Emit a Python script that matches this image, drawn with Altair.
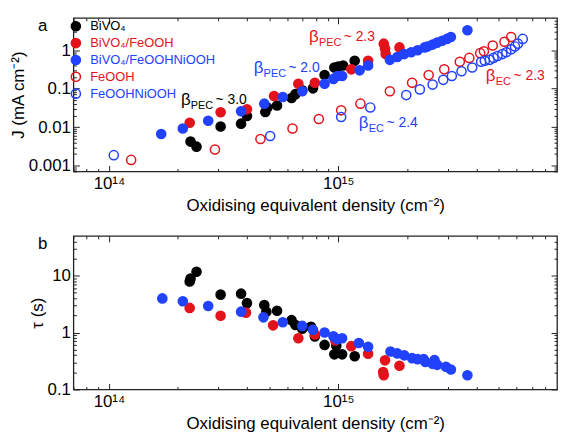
import altair as alt
import pandas as pd

FONT = "Liberation Sans"
RED = "#e3121b"
BLUE = "#2142ff"
BLACK = "#000000"

SERIES = ["BiVO₄", "BiVO₄/FeOOH", "BiVO₄/FeOOHNiOOH", "FeOOH", "FeOOHNiOOH"]
PANEL_LABELS = ["a", "b"]

# ---------------- panel a : current density J (mA cm^-2) ----------------
a_bivo4_x = [2.27e14, 2.41e14, 3.07e14, 3.77e14, 4.00e14, 4.81e14, 4.91e14, 5.41e14, 6.26e14,
             6.51e14, 6.97e14, 7.76e14, 8.72e14, 9.62e14, 1.00e15, 1.05e15, 1.18e15]
a_bivo4_j = [0.0042, 0.0031, 0.0104, 0.0123, 0.0194, 0.0248, 0.0325, 0.0364, 0.0574,
             0.0722, 0.0908, 0.102, 0.226, 0.357, 0.379, 0.401, 0.533]

a_feooh_x = [2.25e14, 3.07e14, 4.00e14, 5.25e14, 6.70e14, 7.91e14, 1.14e15, 1.35e15, 1.58e15,
             1.60e15, 1.61e15, 1.85e15]
a_feooh_j = [0.013, 0.0244, 0.029, 0.0644, 0.135, 0.143, 0.319, 0.533, 1.49, 1.12, 0.796, 1.19]

a_ni_x = [1.69e14, 2.10e14, 2.71e14, 3.77e14, 4.76e14, 5.73e14, 6.97e14, 8.72e14, 9.53e14, 9.91e14,
          1.04e15, 1.24e15, 1.35e15, 1.68e15, 1.81e15, 1.94e15, 2.08e15, 2.22e15, 2.38e15, 2.45e15,
          2.58e15, 2.70e15, 2.84e15, 2.98e15, 3.10e15, 3.66e15]
a_ni_j = [0.0066, 0.0092, 0.0146, 0.0258, 0.0408, 0.0608, 0.0857, 0.135, 0.18, 0.214,
          0.214, 0.301, 0.401, 0.565, 0.67, 0.796, 0.891, 1.0, 1.19, 1.26,
          1.41, 1.58, 1.77, 1.98, 2.22, 3.32]

a_ofe_x = [1.25e14, 2.90e14, 4.58e14, 6.32e14, 8.23e14, 1.03e15, 1.25e15, 1.68e15, 2.10e15,
           2.48e15, 2.90e15, 3.39e15, 3.73e15, 4.16e15, 4.32e15, 4.72e15, 5.31e15, 5.68e15]
a_ofe_j = [0.0014, 0.0026, 0.0049, 0.0092, 0.0163, 0.0273, 0.0408, 0.0857, 0.143,
           0.226, 0.319, 0.504, 0.633, 0.843, 0.944, 1.33, 1.67, 2.22]

a_oni_x = [1.05e14, 5.05e14, 1.03e15, 1.38e15, 1.98e15, 2.27e15, 2.58e15, 2.87e15, 3.13e15, 3.45e15,
           3.84e15, 4.20e15, 4.36e15, 4.58e15, 4.76e15, 4.95e15, 5.20e15, 5.41e15, 5.68e15, 5.90e15,
           6.08e15, 6.38e15]
a_oni_j = [0.00186, 0.00585, 0.0183, 0.0325, 0.0682, 0.096, 0.128, 0.17, 0.214, 0.284,
           0.357, 0.504, 0.533, 0.565, 0.633, 0.71, 0.796, 0.891, 1.06, 1.26,
           1.49, 1.98]

# annotations (slopes)
ann_x = [2.06e14, 4.28e14, 7.46e14, 4.40e15, 1.23e15]
ann_y = [0.0513, 0.338, 2.22, 0.214, 0.013]
ann_sub = ["PEC", "PEC", "PEC", "EC", "EC"]
ann_val = ["~ 3.0", "~ 2.0", "~ 2.3", "~ 2.3", "~ 2.4"]
ann_series = ["BiVO₄", "BiVO₄/FeOOHNiOOH", "BiVO₄/FeOOH", "FeOOH", "FeOOHNiOOH"]

# ---------------- panel b : time constant tau (s) ----------------
b_bivo4_x = [2.25e14, 2.27e14, 2.41e14, 3.07e14, 3.77e14, 4.00e14, 4.76e14, 4.86e14, 5.41e14, 6.26e14,
             6.51e14, 6.97e14, 7.61e14, 7.91e14, 8.72e14, 9.81e14, 9.62e14, 1.04e15, 1.18e15]
b_bivo4_t = [7.9, 8.9, 11.7, 4.64, 4.82, 3.29, 3.04, 2.33, 2.42, 1.65,
             1.36, 1.17, 1.26, 0.857, 0.607, 0.585, 0.414, 0.414, 0.383]

b_feooh_x = [2.25e14, 3.07e14, 3.96e14, 5.20e14, 6.70e14, 7.91e14, 9.71e14, 1.14e15, 1.35e15,
             1.60e15, 1.57e15, 1.58e15, 1.85e15]
b_feooh_t = [2.71, 1.97, 2.24, 1.34, 0.794, 0.926, 0.727, 0.577, 0.425, 0.325, 0.202, 0.178, 0.261]

b_ni_x = [1.71e14, 2.10e14, 2.71e14, 3.77e14, 4.72e14, 5.73e14, 6.97e14, 7.76e14, 8.72e14, 9.53e14,
          9.91e14, 1.04e15, 1.23e15, 1.35e15, 1.69e15, 1.81e15, 1.94e15, 2.10e15, 2.22e15, 2.36e15,
          2.40e15, 2.58e15, 2.63e15, 2.70e15, 2.95e15, 3.10e15, 3.66e15]
b_ni_t = [3.98, 3.55, 2.93, 2.33, 1.85, 1.52, 1.31, 1.12, 1.0, 0.857,
          0.764, 0.794, 0.656, 0.562, 0.464, 0.43, 0.398, 0.355, 0.341, 0.341,
          0.304, 0.282, 0.329, 0.271, 0.251, 0.224, 0.178]

# ---------------- tables ----------------
def frame(xs, ys, name):
    return pd.DataFrame({"x": xs, "v": ys, "series": name})

df_a = pd.concat([
    frame(a_ofe_x, a_ofe_j, "FeOOH"),
    frame(a_oni_x, a_oni_j, "FeOOHNiOOH"),
    frame(a_bivo4_x, a_bivo4_j, "BiVO₄"),
    frame(a_feooh_x, a_feooh_j, "BiVO₄/FeOOH"),
    frame(a_ni_x, a_ni_j, "BiVO₄/FeOOHNiOOH"),
], ignore_index=True)

df_b = pd.concat([
    frame(b_bivo4_x, b_bivo4_t, "BiVO₄"),
    frame(b_feooh_x, b_feooh_t, "BiVO₄/FeOOH"),
    frame(b_ni_x, b_ni_t, "BiVO₄/FeOOHNiOOH"),
], ignore_index=True)

df_ann = pd.DataFrame({"x": ann_x, "v": ann_y, "sub": ann_sub, "val": ann_val, "series": ann_series})

# ---------------- scales / axes ----------------
X_DOMAIN = [7e13, 9e15]
A_DOMAIN = [7e-4, 7]
B_DOMAIN = [0.1, 50]

def log_ticks(lo, hi, exps):
    return [d * 10.0 ** e for e in exps for d in range(1, 10) if lo * 0.999 < d * 10.0 ** e < hi * 0.999]

x_ticks = log_ticks(*X_DOMAIN, range(13, 16))
a_ticks = log_ticks(*A_DOMAIN, range(-4, 1))
b_ticks = log_ticks(*B_DOMAIN, range(-1, 2))

MAJOR = "abs(log(datum.value)/LN10 - round(log(datum.value)/LN10)) < 0.001"
TICK_IN = {"expr": f"({MAJOR}) ? -6 : -3"}     # inward ticks for bottom / left / right
TICK_TOP = {"expr": f"({MAJOR}) ? 6 : 3"}      # bottom-oriented axis moved to the top edge
X_LABEL = (f"({MAJOR}) ? ('10' + (round(log(datum.value)/LN10) == 14 ? '¹⁴' : "
           f"(round(log(datum.value)/LN10) == 15 ? '¹⁵' : '¹³'))) : ''")
Y_LABEL = f"({MAJOR}) ? format(datum.value, '~g') : ''"

xscale = alt.Scale(type="log", domain=X_DOMAIN, nice=False)
stroke_scale = alt.Scale(domain=SERIES, range=[BLACK, RED, BLUE, RED, BLUE])
fill_scale = alt.Scale(domain=SERIES, range=[BLACK, RED, BLUE, "transparent", "transparent"])

LEGEND_COLOR = {"expr": f"datum.value == 'BiVO₄' ? '{BLACK}' : "
                        f"((datum.value == 'BiVO₄/FeOOH' || datum.value == 'FeOOH') ? '{RED}' : '{BLUE}')"}

W = 488
H = 155


def x_axis_main():
    return alt.Axis(orient="bottom", values=x_ticks, labelExpr=X_LABEL, tickSize=TICK_IN,
                    labelPadding=10, domain=False, grid=False, labelOverlap=False, labelFlush=False,
                    title="Oxidising equivalent density (cm⁻²)", titlePadding=3)


def x_axis_mirror():
    return alt.Axis(orient="bottom", offset=-H, values=x_ticks, labels=False, tickSize=TICK_TOP,
                    domain=False, grid=False, title=None)


def y_axis_main(title, ticks):
    return alt.Axis(orient="left", values=ticks, labelExpr=Y_LABEL, tickSize=TICK_IN,
                    labelPadding=9, domain=False, grid=False, labelOverlap=False, labelFlush=False,
                    title=title, titlePadding=1)


def y_axis_mirror(ticks):
    return alt.Axis(orient="right", values=ticks, labels=False, tickSize=TICK_IN,
                    domain=False, grid=False, title=None)


def panel(df, yscale, ytitle, yticks, legend, letter):
    pts = alt.Chart(df).mark_point(shape="circle", size=85, strokeWidth=1.5,
                                   opacity=1, fillOpacity=1).encode(
        x=alt.X("x:Q", scale=xscale, axis=x_axis_main()),
        y=alt.Y("v:Q", scale=yscale, axis=y_axis_main(ytitle, yticks)),
        stroke=alt.Stroke("series:N", scale=stroke_scale, legend=legend),
        fill=alt.Fill("series:N", scale=fill_scale, legend=legend),
    )
    mirror = alt.Chart(df).mark_point(opacity=0).encode(
        x=alt.X("x:Q", scale=xscale, axis=x_axis_mirror()),
        y=alt.Y("v:Q", scale=yscale, axis=y_axis_mirror(yticks)),
    )
    tag = alt.Chart(pd.DataFrame({"t": [letter]})).mark_text(
        align="center", baseline="middle", font=FONT, fontSize=17, color="black").encode(
        text="t:N", x=alt.value(-31), y=alt.value(8))
    return pts, mirror, tag


legend = alt.Legend(title=None, orient="none", legendX=-4, legendY=2, padding=0,
                    labelFont=FONT, labelFontSize=13, labelColor=LEGEND_COLOR,
                    symbolSize=85, symbolStrokeWidth=1.5, labelOffset=8, rowPadding=0,
                    symbolType="circle")

ascale = alt.Scale(type="log", domain=A_DOMAIN, nice=False)
bscale = alt.Scale(type="log", domain=B_DOMAIN, nice=False)

pts_a, mirror_a, tag_a = panel(df_a, ascale, "J (mA cm⁻²)", a_ticks, legend, PANEL_LABELS[0])
pts_b, mirror_b, tag_b = panel(df_b, bscale, "τ (s)", b_ticks, None, PANEL_LABELS[1])

ann_base = alt.Chart(df_ann).encode(
    x=alt.X("x:Q", scale=xscale, axis=None),
    y=alt.Y("v:Q", scale=ascale, axis=None),
    color=alt.Color("series:N", scale=stroke_scale, legend=None),
)
beta = ann_base.mark_text(text="β", align="left", baseline="middle", font=FONT, fontSize=17)
sub = ann_base.mark_text(align="left", baseline="middle", font=FONT, fontSize=11, dx=10, dy=6).encode(
    text="sub:N")
val_pec = ann_base.transform_filter("datum.sub == 'PEC'").mark_text(
    align="left", baseline="middle", font=FONT, fontSize=14, dx=35).encode(text="val:N")
val_ec = ann_base.transform_filter("datum.sub == 'EC'").mark_text(
    align="left", baseline="middle", font=FONT, fontSize=14, dx=28).encode(text="val:N")

top = alt.layer(mirror_a, pts_a, beta, sub, val_pec, val_ec, tag_a).resolve_axis(
    x="independent", y="independent").properties(width=W, height=H)

bottom = alt.layer(mirror_b, pts_b, tag_b).resolve_axis(
    x="independent", y="independent").properties(width=W, height=H)

chart = alt.vconcat(top, bottom, spacing=17).resolve_scale(
    stroke="independent", fill="independent", color="independent").properties(
    padding=0).configure_axis(
    labelFont=FONT, titleFont=FONT, labelFontSize=17, titleFontSize=17,
    titleFontWeight="normal", labelColor="black", titleColor="black",
    tickColor="#222", tickWidth=1).configure_view(
    stroke="#222", strokeWidth=1.3)

chart.save("out.html", embed_options={"renderer": "svg", "actions": False})
